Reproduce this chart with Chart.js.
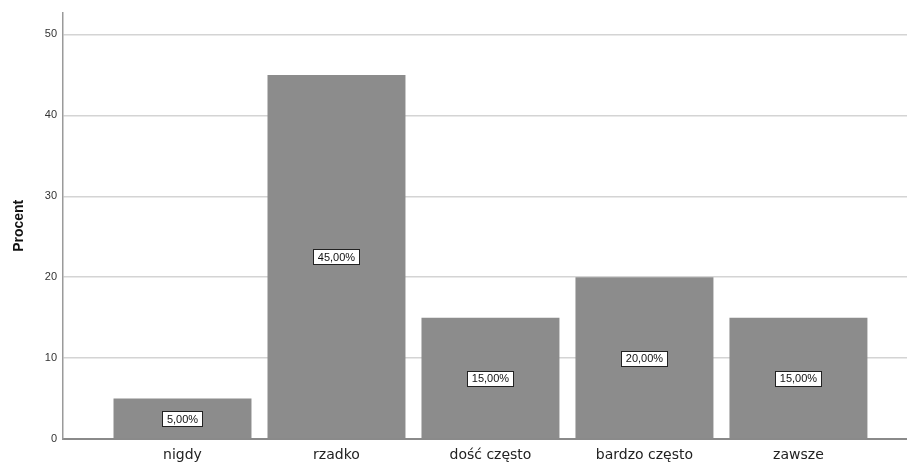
<!DOCTYPE html>
<html lang="pl">
<head>
<meta charset="utf-8">
<title>Procent</title>
<script src="https://cdn.jsdelivr.net/npm/chart.js@4/dist/chart.umd.min.js"></script>
<style>
  html, body { margin: 0; padding: 0; background: #fff; }
  #wrap { width: 907px; height: 464px; position: relative; }
</style>
</head>
<body>
<div id="wrap"><canvas id="procentChart"></canvas></div>
<script>
// Answer categories and their percentages
const categories = ['nigdy', 'rzadko', 'dość często', 'bardzo często', 'zawsze'];
const percents = [5, 45, 15, 20, 15];
const yTicks = [0, 10, 20, 30, 40, 50];

// Draws the "45,00%" boxes in the middle of each bar
const barLabels = {
    id: 'barLabels',
    afterDatasetsDraw(chart) {
        const ctx = chart.ctx;
        const meta = chart.getDatasetMeta(0);
        const yScale = chart.scales.y;
        ctx.save();
        ctx.font = '11px "Liberation Sans", Arial, sans-serif';
        ctx.textAlign = 'center';
        ctx.textBaseline = 'middle';
        meta.data.forEach((bar, i) => {
            const v = percents[i];
            const text = v.toFixed(2).replace('.', ',') + '%';
            const cx = bar.x;
            const cy = yScale.getPixelForValue(v / 2);
            const w = Math.round(ctx.measureText(text).width + 9);
            const h = 15;
            const bx = Math.round(cx - w / 2);
            const by = Math.round(cy - h / 2);
            ctx.fillStyle = '#ffffff';
            ctx.fillRect(bx, by, w, h);
            ctx.strokeStyle = '#222222';
            ctx.lineWidth = 1;
            ctx.strokeRect(bx + 0.5, by + 0.5, w, h);
            ctx.fillStyle = '#111111';
            ctx.fillText(text, cx, cy + 1);
        });
        ctx.restore();
    }
};

const ctx = document.getElementById('procentChart').getContext('2d');
new Chart(ctx, {
    type: 'bar',
    data: {
        datasets: [{
            data: percents.map((p, i) => ({ x: i, y: p })),
            backgroundColor: '#8c8c8c',
            borderWidth: 0,
            categoryPercentage: 1,
            barPercentage: 0.896
        }]
    },
    options: {
        responsive: true,
        maintainAspectRatio: false,
        animation: false,
        layout: { padding: { top: 11, right: 0, left: 0, bottom: 0 } },
        plugins: {
            legend: { display: false },
            tooltip: { enabled: false }
        },
        scales: {
            x: {
                type: 'linear',
                offset: false,
                min: -0.776,
                max: 4.705,
                afterBuildTicks(scale) {
                    scale.ticks = categories.map((c, i) => ({ value: i }));
                },
                afterFit(scale) { scale.height = 25; },
                ticks: {
                    callback: (v) => categories[v],
                    color: '#222222',
                    padding: 8,
                    maxRotation: 0,
                    autoSkip: false,
                    font: { size: 14, family: '"DejaVu Sans", Verdana, sans-serif' }
                },
                grid: { display: false, drawTicks: false },
                border: { color: '#8a8a8a', width: 2 }
            },
            y: {
                min: 0,
                max: 52.7,
                afterBuildTicks(scale) {
                    scale.ticks = yTicks.map(v => ({ value: v }));
                },
                afterFit(scale) { scale.width = 63; },
                ticks: {
                    color: '#333333',
                    padding: 6,
                    font: { size: 11, family: '"Liberation Sans", Arial, sans-serif' }
                },
                grid: { color: '#d4d4d4', lineWidth: 1.5, drawTicks: false },
                border: { color: '#9a9a9a', width: 1.5 },
                title: {
                    display: true,
                    text: 'Procent',
                    color: '#111111',
                    padding: { top: 11, bottom: 0 },
                    font: { size: 14, weight: 'bold', family: '"Liberation Sans", Arial, sans-serif' }
                }
            }
        }
    },
    plugins: [barLabels]
});
</script>
</body>
</html>
